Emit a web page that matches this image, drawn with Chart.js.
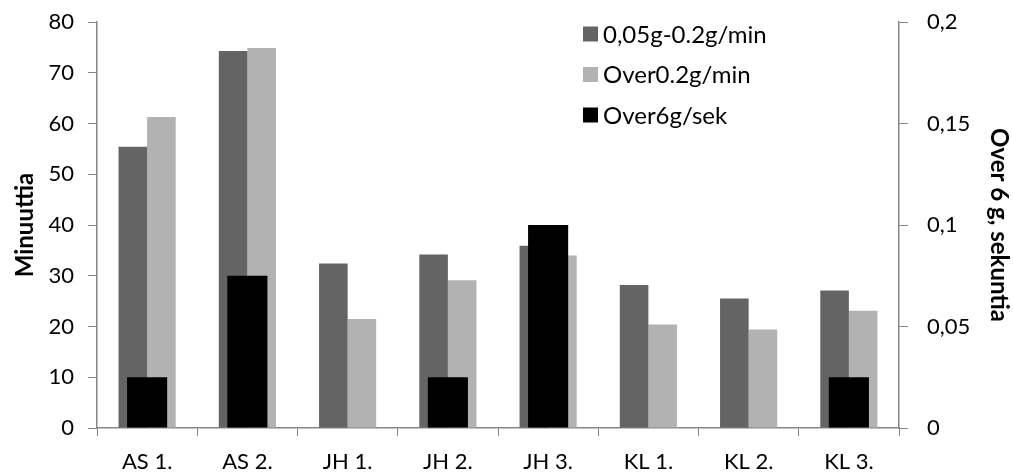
<!DOCTYPE html>
<html>
<head>
<meta charset="utf-8">
<script src="https://cdn.jsdelivr.net/npm/chart.js@4/dist/chart.umd.min.js"></script>
<style>
  html, body { margin: 0; padding: 0; background: #fff; }
  #wrap { width: 1013px; height: 475px; }
</style>
</head>
<body>
<div id="wrap"><canvas id="c" width="1013" height="475"></canvas></div>
<script>
// Measurement sessions
const categories = ['AS 1.', 'AS 2.', 'JH 1.', 'JH 2.', 'JH 3.', 'KL 1.', 'KL 2.', 'KL 3.'];

// Minutes in each acceleration band (left axis)
const lowBand = [55.4, 74.3, 32.4, 34.2, 35.9, 28.2, 25.5, 27.1];
const highBand = [61.3, 74.9, 21.5, 29.1, 34.0, 20.4, 19.4, 23.1];

// Seconds above 6 g (right axis)
const over6g = [0.025, 0.075, 0, 0.025, 0.1, 0, 0, 0.025];

const seriesNames = ['0,05g-0.2g/min', 'Over0.2g/min', 'Over6g/sek'];
const leftTicks = { min: 0, max: 80, step: 10 };
const rightTicks = { min: 0, max: 0.2, step: 0.05 };

const FONT = 'Lato';
const AXIS_GRAY = '#868686';
const TEXT = '#000000';

// Fixed chart-area edges
const AREA = { left: 97, right: 899, top: 22, bottom: 428 };

// Legend drawn inside the plot area, top right
const insideLegend = {
  id: 'insideLegend',
  afterDraw(chart) {
    const ctx = chart.ctx;
    const x = 583, y0 = 34, gap = 40.5, box = 15;
    ctx.save();
    ctx.font = '24px ' + FONT;
    ctx.textBaseline = 'middle';
    ctx.textAlign = 'left';
    chart.data.datasets.forEach((ds, i) => {
      const y = y0 + i * gap;
      ctx.fillStyle = ds.backgroundColor;
      ctx.fillRect(x, y - box / 2, box, box);
      ctx.fillStyle = TEXT;
      ctx.fillText(ds.label, x + 20, y + 1);
    });
    ctx.restore();
  }
};

// Pin the plot area to fixed edges regardless of label sizes
const pinArea = {
  id: 'pinArea',
  afterLayout(chart) {
    const { x, y, y1 } = chart.scales;
    [y, y1].forEach(s => {
      s.top = AREA.top; s.bottom = AREA.bottom; s.height = AREA.bottom - AREA.top;
      s.configure();
    });
    x.left = AREA.left; x.right = AREA.right; x.width = AREA.right - AREA.left;
    x.configure();
    Object.assign(chart.chartArea, {
      top: AREA.top, bottom: AREA.bottom, left: AREA.left, right: AREA.right,
      width: AREA.right - AREA.left, height: AREA.bottom - AREA.top
    });
  }
};

const fmtComma = v => String(Number(v.toFixed(2))).replace('.', ',');

new Chart(document.getElementById('c'), {
  type: 'bar',
  data: {
    labels: categories,
    datasets: [
      {
        label: seriesNames[0],
        data: lowBand,
        backgroundColor: '#646464',
        yAxisID: 'y',
        categoryPercentage: 0.57, barPercentage: 1.0,
        order: 2
      },
      {
        label: seriesNames[1],
        data: highBand,
        backgroundColor: '#b2b2b2',
        yAxisID: 'y',
        categoryPercentage: 0.57, barPercentage: 1.0,
        order: 2
      },
      {
        // centred over each pair, drawn on top
        label: seriesNames[2],
        data: over6g,
        backgroundColor: '#000000',
        yAxisID: 'y1',
        grouped: false,
        categoryPercentage: 0.4, barPercentage: 1.0,
        order: 1
      }
    ]
  },
  options: {
    responsive: false,
    animation: false,
    devicePixelRatio: 1,
    layout: { padding: { top: 22, left: 0, right: 0, bottom: 0 } },
    plugins: {
      legend: { display: false },
      tooltip: { enabled: false }
    },
    scales: {
      x: {
        type: 'category',
        position: 'bottom',
        grid: {
          drawOnChartArea: false,
          drawTicks: true,
          tickLength: 8,
          color: AXIS_GRAY,
          offset: true
        },
        border: { color: AXIS_GRAY, width: 1.5 },
        ticks: { color: TEXT, font: { family: FONT, size: 22 }, padding: 13, maxRotation: 0, autoSkip: false },
        afterFit(s) { s.height = 475 - AREA.bottom; }
      },
      y: {
        position: 'left',
        min: leftTicks.min, max: leftTicks.max,
        ticks: { stepSize: leftTicks.step, color: TEXT, font: { family: FONT, size: 22 }, padding: 14 },
        grid: { drawOnChartArea: false, tickLength: 9, color: AXIS_GRAY },
        border: { color: AXIS_GRAY, width: 1.5 },
        title: {
          display: true,
          text: 'Minuuttia',
          color: TEXT,
          font: { family: FONT, size: 24, weight: 'bold' },
          padding: { top: 11, bottom: 0 }
        },
        afterFit(s) { s.width = AREA.left; }
      },
      y1: {
        position: 'right',
        min: rightTicks.min, max: rightTicks.max,
        ticks: { stepSize: rightTicks.step, color: TEXT, font: { family: FONT, size: 22 }, padding: 19, callback: v => fmtComma(v) },
        grid: { drawOnChartArea: false, tickLength: 9, color: AXIS_GRAY },
        border: { color: AXIS_GRAY, width: 1.5 },
        title: {
          display: true,
          text: 'Over 6 g, sekuntia',
          color: TEXT,
          font: { family: FONT, size: 24, weight: 'bold' },
          padding: { top: 0, bottom: 2 }
        },
        afterFit(s) { s.width = 1013 - AREA.right; }
      }
    }
  },
  plugins: [pinArea, insideLegend]
});
</script>
</body>
</html>
